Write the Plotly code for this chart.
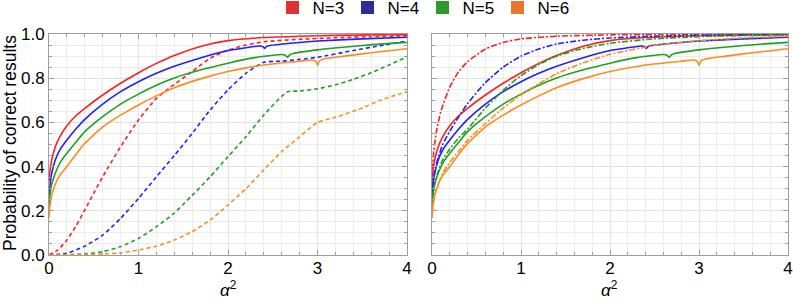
import plotly.graph_objects as go

# ---------------- data ----------------
labels = ["N=3", "N=4", "N=5", "N=6"]
line_colors = ["#ff1f1f", "#1f1fff", "#1fa01f", "#ff8c1a"]
swatch_colors = ["#e03232", "#2d2d99", "#2e9a2e", "#e6782e"]

# solid curves (same in both panels)
solid3_x = [0, 0.01, 0.03, 0.07, 0.12, 0.2, 0.3, 0.4, 0.6, 0.8, 1.0, 1.2, 1.4, 1.7, 2.0, 2.4, 2.8, 3.2, 3.6, 4.0]
solid3_y = [0.333, 0.38, 0.43, 0.49, 0.535, 0.585, 0.63, 0.664, 0.724, 0.777, 0.825, 0.867, 0.903, 0.945, 0.97, 0.984, 0.99, 0.994, 0.996, 0.997]

solid4_x = [0, 0.01, 0.03, 0.07, 0.12, 0.2, 0.3, 0.4, 0.6, 0.8, 1.0, 1.2, 1.4, 1.7, 2.0, 2.2, 2.35, 2.39, 2.41, 2.43, 2.47, 2.7, 3.0, 3.5, 4.0]
solid4_y = [0.25, 0.31, 0.37, 0.43, 0.475, 0.52, 0.57, 0.614, 0.683, 0.739, 0.784, 0.822, 0.854, 0.893, 0.925, 0.938, 0.946, 0.943, 0.935, 0.944, 0.948, 0.958, 0.968, 0.978, 0.985]

solid5_x = [0, 0.01, 0.03, 0.07, 0.12, 0.2, 0.3, 0.4, 0.6, 0.8, 1.0, 1.2, 1.4, 1.7, 2.0, 2.3, 2.6, 2.64, 2.665, 2.69, 2.73, 3.0, 3.5, 4.0]
solid5_y = [0.2, 0.27, 0.32, 0.37, 0.415, 0.46, 0.51, 0.558, 0.626, 0.683, 0.728, 0.768, 0.801, 0.838, 0.868, 0.893, 0.907, 0.904, 0.894, 0.906, 0.912, 0.928, 0.948, 0.962]

solid6_x = [0, 0.01, 0.03, 0.07, 0.12, 0.2, 0.3, 0.4, 0.6, 0.8, 1.0, 1.2, 1.4, 1.7, 2.0, 2.4, 2.8, 2.94, 2.98, 3.0, 3.02, 3.06, 3.3, 3.6, 4.0]
solid6_y = [0.167, 0.22, 0.27, 0.32, 0.36, 0.40, 0.455, 0.505, 0.58, 0.633, 0.679, 0.72, 0.757, 0.798, 0.83, 0.86, 0.877, 0.882, 0.876, 0.858, 0.877, 0.886, 0.9, 0.915, 0.933]

# left panel dashed curves
dash3_x = [0, 0.1, 0.2, 0.3, 0.4, 0.5, 0.6, 0.8, 1.0, 1.2, 1.36, 1.6, 1.8, 2.0, 2.2, 2.4, 2.8, 3.2, 3.6, 4.0]
dash3_y = [0, 0.023, 0.068, 0.13, 0.204, 0.28, 0.354, 0.49, 0.611, 0.709, 0.76, 0.83, 0.89, 0.927, 0.95, 0.965, 0.976, 0.983, 0.988, 0.992]

dash4_x = [0, 0.2, 0.4, 0.6, 0.8, 1.0, 1.2, 1.4, 1.6, 1.8, 2.0, 2.2, 2.4, 2.6, 2.8, 3.0, 3.4, 3.7, 4.0]
dash4_y = [0, 0.008, 0.04, 0.09, 0.166, 0.256, 0.354, 0.45, 0.55, 0.656, 0.747, 0.822, 0.872, 0.877, 0.885, 0.895, 0.925, 0.947, 0.968]

dash5_x = [0, 0.4, 0.6, 0.8, 1.0, 1.2, 1.4, 1.6, 1.8, 2.0, 2.2, 2.4, 2.66, 2.8, 3.0, 3.2, 3.4, 3.6, 3.8, 4.0]
dash5_y = [0, 0.005, 0.015, 0.038, 0.075, 0.128, 0.19, 0.27, 0.354, 0.445, 0.535, 0.633, 0.738, 0.742, 0.752, 0.77, 0.795, 0.825, 0.86, 0.897]

dash6_x = [0, 0.6, 0.8, 1.0, 1.2, 1.4, 1.6, 1.8, 2.0, 2.2, 2.4, 2.6, 2.8, 3.0, 3.2, 3.5, 3.7, 4.0]
dash6_y = [0, 0.004, 0.01, 0.023, 0.04, 0.068, 0.106, 0.158, 0.226, 0.30, 0.385, 0.468, 0.535, 0.6, 0.623, 0.665, 0.70, 0.739]

# right panel dash-dot curves
dd3_x = [0, 0.005, 0.02, 0.05, 0.1, 0.2, 0.3, 0.4, 0.6, 0.8, 1.0, 1.4, 2.0, 3.0, 4.0]
dd3_y = [0.333, 0.40, 0.47, 0.56, 0.65, 0.76, 0.83, 0.875, 0.932, 0.962, 0.978, 0.99, 0.996, 0.999, 1.0]

dd4_x = [0, 0.01, 0.03, 0.07, 0.12, 0.2, 0.3, 0.4, 0.6, 0.8, 1.0, 1.2, 1.4, 1.7, 2.0, 2.5, 3.0, 4.0]
dd4_y = [0.25, 0.32, 0.38, 0.44, 0.50, 0.56, 0.625, 0.685, 0.78, 0.85, 0.9, 0.932, 0.955, 0.972, 0.982, 0.99, 0.994, 0.998]

dd5_x = [0, 0.01, 0.03, 0.07, 0.12, 0.2, 0.3, 0.4, 0.6, 0.8, 1.0, 1.2, 1.4, 1.7, 2.0, 2.5, 3.0, 3.5, 4.0]
dd5_y = [0.2, 0.27, 0.32, 0.38, 0.43, 0.48, 0.53, 0.57, 0.665, 0.745, 0.812, 0.862, 0.9, 0.935, 0.958, 0.978, 0.988, 0.993, 0.996]

dd6_x = [0, 0.01, 0.03, 0.07, 0.12, 0.2, 0.3, 0.4, 0.6, 0.8, 1.0, 1.2, 1.4, 1.7, 2.0, 2.5, 3.0, 3.5, 4.0]
dd6_y = [0.167, 0.22, 0.27, 0.32, 0.37, 0.42, 0.47, 0.52, 0.595, 0.665, 0.725, 0.775, 0.82, 0.87, 0.908, 0.948, 0.97, 0.982, 0.99]

x_ticks = [0, 1, 2, 3, 4]
y_ticks = [0.0, 0.2, 0.4, 0.6, 0.8, 1.0]
y_ticklabels = ["0.0", "0.2", "0.4", "0.6", "0.8", "1.0"]

# ---------------- figure ----------------
solids = [(solid3_x, solid3_y), (solid4_x, solid4_y), (solid5_x, solid5_y), (solid6_x, solid6_y)]
dashes = [(dash3_x, dash3_y), (dash4_x, dash4_y), (dash5_x, dash5_y), (dash6_x, dash6_y)]
dashdots = [(dd3_x, dd3_y), (dd4_x, dd4_y), (dd5_x, dd5_y), (dd6_x, dd6_y)]

fig = go.Figure()
LW = 1.6
for i in range(4):
    c = line_colors[i]
    fig.add_trace(go.Scatter(x=dashes[i][0], y=dashes[i][1], mode="lines", xaxis="x", yaxis="y",
                             line=dict(color=c, width=LW, dash="4px,3px", shape="spline", smoothing=0.6),
                             showlegend=False, hoverinfo="skip"))
    fig.add_trace(go.Scatter(x=solids[i][0], y=solids[i][1], mode="lines", xaxis="x", yaxis="y",
                             line=dict(color=c, width=LW, shape="spline", smoothing=0.5),
                             showlegend=False, hoverinfo="skip"))
    fig.add_trace(go.Scatter(x=dashdots[i][0], y=dashdots[i][1], mode="lines", xaxis="x2", yaxis="y2",
                             line=dict(color=c, width=LW, dash="6px,2px,2px,2px", shape="spline", smoothing=0.6),
                             showlegend=False, hoverinfo="skip"))
    fig.add_trace(go.Scatter(x=solids[i][0], y=solids[i][1], mode="lines", xaxis="x2", yaxis="y2",
                             line=dict(color=c, width=LW, shape="spline", smoothing=0.5),
                             showlegend=False, hoverinfo="skip"))

# legend swatches
for i in range(4):
    fig.add_trace(go.Scatter(x=[None], y=[None], mode="markers", name=labels[i],
                             marker=dict(symbol="square", size=13, color=swatch_colors[i]),
                             xaxis="x", yaxis="y"))

W, H = 793, 300
ML, MR, MT, MB = 49, 5, 34, 45
PW = W - ML - MR   # 739
PH = H - MT - MB   # 221
L1, R1 = 49, 407
L2, R2 = 432, 788

def px2x(px):
    return (px - ML) / PW

def py2y(py):
    return (H - MB - py) / PH

FONT = "Liberation Sans, Arial, sans-serif"
grid_major = "#e2e2e2"
grid_minor = "#ececec"
frame = "#9e9e9e"

def xaxis_common(dom, anchor):
    return dict(domain=[px2x(dom[0]), px2x(dom[1])], range=[0, 4], anchor=anchor,
                tickvals=x_ticks, ticktext=[str(v) for v in x_ticks],
                showgrid=True, gridcolor=grid_major, gridwidth=1,
                minor=dict(dtick=0.2, showgrid=True, gridcolor=grid_minor, ticks="inside",
                           ticklen=3, tickcolor=frame),
                ticks="inside", ticklen=5, tickcolor=frame,
                showline=True, linecolor=frame, linewidth=1, mirror="allticks",
                zeroline=False, automargin=False, ticklabeloverflow="allow",
                ticklabelstandoff=-2,
                tickfont=dict(size=17, color="#000", family=FONT))

def yaxis_common(anchor, labels_on):
    return dict(domain=[0, 1], range=[0, 1], anchor=anchor,
                tickvals=y_ticks, ticktext=y_ticklabels, showticklabels=labels_on,
                showgrid=True, gridcolor=grid_major, gridwidth=1,
                minor=dict(dtick=0.05, showgrid=True, gridcolor=grid_minor, ticks="inside",
                           ticklen=3, tickcolor=frame),
                ticks="inside", ticklen=5, tickcolor=frame,
                showline=True, linecolor=frame, linewidth=1, mirror="allticks",
                zeroline=False, automargin=False, ticklabeloverflow="allow",
                tickfont=dict(size=17, color="#000", family=FONT))

annotations = [
    dict(text="Probability of correct results", xref="paper", yref="paper",
         x=px2x(10), y=py2y(143), textangle=-90, showarrow=False,
         xanchor="center", yanchor="middle", font=dict(size=17.5, family=FONT, color="#000")),
    dict(text="<i>α</i><sup>2</sup>", xref="paper", yref="paper",
         x=px2x(228), y=py2y(289), showarrow=False,
         xanchor="center", yanchor="middle", font=dict(size=17, family=FONT, color="#000")),
    dict(text="<i>α</i><sup>2</sup>", xref="paper", yref="paper",
         x=px2x(609), y=py2y(289), showarrow=False,
         xanchor="center", yanchor="middle", font=dict(size=17, family=FONT, color="#000")),
]

fig.update_layout(
    width=W, height=H,
    margin=dict(l=ML, r=MR, t=MT, b=MB, autoexpand=False),
    paper_bgcolor="white", plot_bgcolor="white",
    xaxis=xaxis_common((L1, R1), "y"), yaxis=yaxis_common("x", True),
    xaxis2=xaxis_common((L2, R2), "y2"), yaxis2=yaxis_common("x2", False),
    font=dict(family=FONT, size=17, color="#000"),
    showlegend=True,
    legend=dict(orientation="h", x=px2x(272.5), xanchor="left", y=py2y(-10), yanchor="top",
                font=dict(size=17, family=FONT, color="#000"),
                bgcolor="rgba(0,0,0,0)", itemwidth=30, entrywidth=30, entrywidthmode="pixels"),
    annotations=annotations,
)

fig.write_html("out.html",
               config={"displayModeBar": False, "staticPlot": True},
               post_script="document.body.style.margin='0px';document.body.style.padding='0px';")
